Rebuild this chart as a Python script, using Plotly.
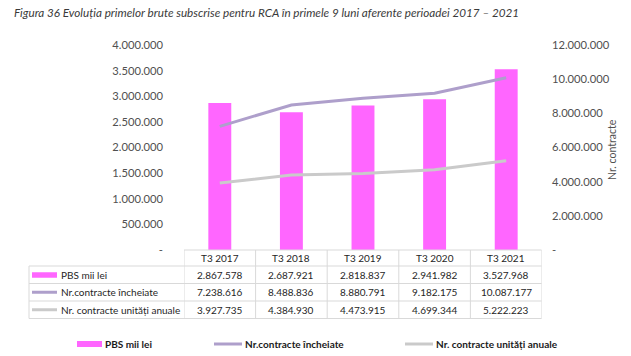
import plotly.graph_objects as go

# ---------------- data ----------------
categories = ["T3 2017", "T3 2018", "T3 2019", "T3 2020", "T3 2021"]
pbs_mii_lei = [2867578, 2687921, 2818837, 2941982, 3527968]
nr_contracte_incheiate = [7238616, 8488836, 8880791, 9182175, 10087177]
nr_contracte_unitati = [3927735, 4384930, 4473915, 4699344, 5222223]
series_names = ["PBS mii lei", "Nr.contracte încheiate", "Nr. contracte unități anuale"]
left_tickvals = [0, 500000, 1000000, 1500000, 2000000, 2500000, 3000000, 3500000, 4000000]
right_tickvals = [0, 2000000, 4000000, 6000000, 8000000, 10000000, 12000000]
title_text = "Figura 36 Evoluția primelor brute subscrise pentru RCA în primele 9 luni aferente perioadei 2017 – 2021"
right_axis_title = "Nr. contracte"

# ---------------- styles ----------------
PINK = "#FF66FF"
PURPLE = "#AE9FCB"
GREY = "#CACACA"
GRID = "#D9D9D9"
TXT = "#505050"
FONT = "Lato"

W, H = 631, 356
PL, PR, PT, PB = 184, 542, 45, 250


def fmt(v):
    return "-" if v == 0 else f"{v:,}".replace(",", ".")


def px(x):
    return (x - PL) / (PR - PL)


def py(y):
    return (PB - y) / (PB - PT)


fig = go.Figure()
fig.add_trace(go.Bar(x=categories, y=pbs_mii_lei, name=series_names[0],
                     marker=dict(color=PINK, line=dict(width=0)), width=0.32,
                     yaxis="y", showlegend=False))
fig.add_trace(go.Scatter(x=categories, y=nr_contracte_incheiate, name=series_names[1],
                         mode="lines", line=dict(color=PURPLE, width=3),
                         yaxis="y2", showlegend=False))
fig.add_trace(go.Scatter(x=categories, y=nr_contracte_unitati, name=series_names[2],
                         mode="lines", line=dict(color=GREY, width=3),
                         yaxis="y2", showlegend=False))

shapes = []
annotations = []

# ---------------- data table ----------------
row_edges = [250, 266, 283.5, 301, 318.5]
left_x = 29
right_x = 541.5
line = dict(color=GRID, width=1)
shapes.append(dict(type="line", xref="paper", yref="paper", x0=px(PL), x1=px(right_x),
                   y0=py(row_edges[0]), y1=py(row_edges[0]), line=line))
for ye in row_edges[1:]:
    shapes.append(dict(type="line", xref="paper", yref="paper", x0=px(left_x), x1=px(right_x),
                       y0=py(ye), y1=py(ye), line=line))
for i in range(len(categories) + 1):
    shapes.append(dict(type="line", xref="x", yref="paper", x0=i - 0.5, x1=i - 0.5,
                       y0=py(row_edges[0]), y1=py(row_edges[-1]), line=line))
shapes.append(dict(type="line", xref="paper", yref="paper", x0=px(left_x), x1=px(left_x),
                   y0=py(row_edges[1]), y1=py(row_edges[-1]), line=line))

cell_font = dict(family=FONT, size=10, color="#262626")
for i, c in enumerate(categories):
    annotations.append(dict(x=i, xref="x", y=py((row_edges[0] + row_edges[1]) / 2), yref="paper",
                            text=c, showarrow=False, font=cell_font, xanchor="center", yanchor="middle"))
rows = [pbs_mii_lei, nr_contracte_incheiate, nr_contracte_unitati]
for r, vals in enumerate(rows):
    yc = (row_edges[r + 1] + row_edges[r + 2]) / 2
    for i, v in enumerate(vals):
        annotations.append(dict(x=i, xref="x", y=py(yc), yref="paper", text=fmt(v),
                                showarrow=False, font=cell_font, xanchor="center", yanchor="middle"))
    annotations.append(dict(x=px(59), xref="paper", y=py(yc), yref="paper", text=series_names[r],
                            showarrow=False, font=cell_font, xanchor="left", yanchor="middle"))
    if r == 0:
        shapes.append(dict(type="rect", xref="paper", yref="paper", x0=px(32), x1=px(57),
                           y0=py(yc - 2.5), y1=py(yc + 3), fillcolor=PINK, line=dict(width=0)))
    else:
        shapes.append(dict(type="line", xref="paper", yref="paper", x0=px(32), x1=px(57),
                           y0=py(yc), y1=py(yc), line=dict(color=[PURPLE, GREY][r - 1], width=3)))

# ---------------- bottom legend ----------------
leg_y = 344
leg_font = dict(family=FONT, size=10, color="#1A1A1A")
leg_items = [(77, 102, 103), (214, 242, 243), (405, 433, 434)]
for k, (a, b, t) in enumerate(leg_items):
    if k == 0:
        shapes.append(dict(type="rect", xref="paper", yref="paper", x0=px(a), x1=px(b),
                           y0=py(leg_y - 3), y1=py(leg_y + 3), fillcolor=PINK, line=dict(width=0)))
    else:
        shapes.append(dict(type="line", xref="paper", yref="paper", x0=px(a), x1=px(b),
                           y0=py(leg_y), y1=py(leg_y), line=dict(color=[PURPLE, GREY][k - 1], width=3)))
    annotations.append(dict(x=px(t), xref="paper", y=py(leg_y), yref="paper",
                            text="<b>" + series_names[k] + "</b>", showarrow=False,
                            font=leg_font, xanchor="left", yanchor="middle"))

# ---------------- title & right axis title ----------------
annotations.append(dict(x=px(12), xref="paper", y=py(12), yref="paper",
                        text="<i>" + title_text + "</i>", showarrow=False,
                        font=dict(family=FONT, size=11.7, color="#3A3A3A"),
                        xanchor="left", yanchor="middle"))
annotations.append(dict(x=px(612), xref="paper", y=py(150), yref="paper",
                        text=right_axis_title, showarrow=False, textangle=-90,
                        font=dict(family=FONT, size=10.5, color=TXT),
                        xanchor="center", yanchor="middle"))

tick_font = dict(family=FONT, size=11.2, color=TXT)
fig.update_layout(
    width=W, height=H,
    margin=dict(l=PL, r=W - PR, t=PT, b=H - PB, pad=0),
    paper_bgcolor="white", plot_bgcolor="white",
    showlegend=False,
    xaxis=dict(type="category", categoryorder="array", categoryarray=categories,
               range=[-0.5, len(categories) - 0.5], showticklabels=False,
               showgrid=False, zeroline=False, showline=False, ticks=""),
    yaxis=dict(range=[0, 4000000], tickvals=left_tickvals,
               ticktext=[fmt(v) for v in left_tickvals], tickfont=tick_font,
               showgrid=False, zeroline=False, showline=False, ticks="",
               ticklabelstandoff=20),
    yaxis2=dict(range=[0, 12000000], tickvals=right_tickvals,
                ticktext=[fmt(v) for v in right_tickvals], tickfont=tick_font,
                overlaying="y", side="right", anchor="x",
                showgrid=False, zeroline=False, showline=False, ticks="",
                ticklabelstandoff=9),
    shapes=shapes,
    annotations=annotations,
)

fig.write_html("out.html", config={"displayModeBar": False},
               post_script="document.body.style.margin='0';document.body.style.padding='0';")
